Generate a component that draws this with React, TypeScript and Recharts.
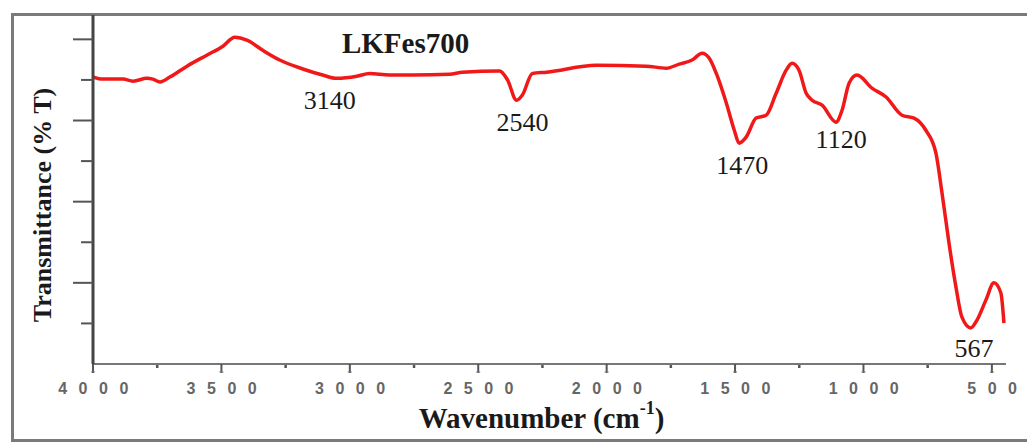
import { LineChart, Line, XAxis, YAxis, ReferenceDot } from "recharts";

// FT-IR spectrum of LKFes700
const wavenumbers = [
  4000, 3961, 3883, 3844, 3790, 3767, 3739, 3701, 3634, 3557, 3494, 3448, 3401,
  3339, 3273, 3183, 3106, 3051, 2973, 2923, 2845, 2756, 2612, 2561, 2417, 2386,
  2351, 2328, 2289, 2234, 2040, 1846, 1768, 1717, 1667, 1628, 1601, 1573, 1534,
  1503, 1484, 1457, 1418, 1379, 1340, 1301, 1278, 1251, 1223, 1200, 1161, 1107,
  1083, 1056, 1025, 967, 912, 850, 803, 757, 718, 694, 667, 640, 617, 582, 558,
  523, 492, 465, 453,
];
const transmittance = [
  70.7, 70.2, 70.2, 69.7, 70.4, 70.2, 69.5, 70.7, 73.4, 76.1, 78.3, 80.5, 79.8,
  77.3, 74.9, 72.7, 71.2, 70.4, 70.9, 71.6, 71.2, 71.2, 71.4, 71.9, 72.2, 70.0,
  65.0, 66.3, 71.6, 71.9, 73.6, 73.4, 72.9, 73.9, 74.9, 76.6, 75.4, 71.6, 64.3,
  57.6, 54.4, 55.9, 60.6, 61.3, 66.7, 72.4, 74.1, 72.4, 66.7, 65.0, 63.8, 59.6,
  62.6, 69.2, 71.2, 68.0, 65.8, 61.3, 60.6, 57.6, 52.0, 42.1, 29.8, 19.0, 11.6,
  8.9, 10.8, 15.8, 20.0, 17.5, 10.1,
];

// peak annotations (text, wavenumber, transmittance where the text sits)
const peakLabels = ["3140", "2540", "1470", "1120", "567"];
const peakLabelX = [3078, 2328, 1472, 1087, 570];
const peakLabelY = [65, 59.4, 49, 55.2, 3.9];

const sampleName = "LKFes700";
const sampleNameX = 2783;
const sampleNameY = 79;

const xTicks = [
  4000, 3750, 3500, 3250, 3000, 2750, 2500, 2250, 2000, 1750, 1500, 1250, 1000,
  750, 500,
];
const yTicks = [10, 20, 30, 40, 50, 60, 70, 80];

const data = wavenumbers.map((w, i) => ({ w, t: transmittance[i] }));

const SERIF = '"Liberation Serif", "Times New Roman", serif';

const XTick = (props: any) => {
  const { x, y, payload } = props;
  const major = payload.value % 500 === 0;
  if (!major) {
    return <line x1={x} x2={x} y1={y + 1} y2={y + 4} stroke="#555" strokeWidth={2.5} />;
  }
  return (
    <g>
      <line x1={x} x2={x} y1={y} y2={y + 9} stroke="#555" strokeWidth={2} />
      <line x1={x - 2} x2={x + 2} y1={y + 8} y2={y + 8} stroke="#777" strokeWidth={1} />
      <text
        x={x + 6}
        y={y + 30}
        textAnchor="middle"
        fontFamily='"Liberation Sans", Arial, sans-serif'
        fontWeight="bold"
        fontSize={16}
        letterSpacing={11.5}
        fill="#666"
      >
        {payload.value}
      </text>
    </g>
  );
};

const YTick = (props: any) => {
  const { x, y, payload } = props;
  const len = payload.value % 20 === 0 ? 20 : 12;
  return <line x1={x - len} x2={x} y1={y} y2={y} stroke="#555" strokeWidth={2} />;
};

const PeakText = (props: any) => {
  const { viewBox, value, bold, size } = props;
  const cx = viewBox.x + (viewBox.width || 0) / 2;
  const cy = viewBox.y + (viewBox.height || 0) / 2;
  return (
    <text
      x={cx}
      y={cy}
      textAnchor="middle"
      dominantBaseline="central"
      fontFamily={SERIF}
      fontWeight={bold ? "bold" : "normal"}
      fontSize={size}
      fill="#1a1a1a"
    >
      {value}
    </text>
  );
};

const YTitle = (props: any) => {
  const { viewBox } = props;
  const cx = viewBox.x + 34;
  const cy = 197;
  return (
    <text
      x={cx}
      y={cy}
      transform={`rotate(-90 ${cx} ${cy})`}
      textAnchor="middle"
      dominantBaseline="central"
      fontFamily={SERIF}
      fontWeight="bold"
      fontSize={26}
      fill="#1a1a1a"
    >
      Transmittance (% T)
    </text>
  );
};

const XTitle = (props: any) => {
  const { viewBox } = props;
  const cx = viewBox.x + viewBox.width / 2 - 8;
  const cy = viewBox.y + 54;
  return (
    <text
      x={cx}
      y={cy}
      textAnchor="middle"
      dominantBaseline="central"
      fontFamily={SERIF}
      fontWeight="bold"
      fontSize={29}
      fill="#1a1a1a"
    >
      Wavenumber (cm
      <tspan fontSize={18} dy={-10}>
        -1
      </tspan>
      <tspan dy={10}>)</tspan>
    </text>
  );
};

export default function App() {
  return (
    <div style={{ position: "relative", width: 1027, height: 434 }}>
      <style>{`body{margin:8px;overflow:hidden;background:#fff}`}</style>
      <div
        style={{
          position: "absolute",
          left: 3,
          top: 5,
          width: 1024,
          height: 429,
          boxSizing: "border-box",
          borderLeft: "3px solid #7a7a7a",
          borderTop: "3px solid #7a7a7a",
          borderBottom: "3px solid #7a7a7a",
        }}
      />
      <LineChart
        width={1027}
        height={434}
        data={data}
        margin={{ top: 7, right: 29, bottom: 0, left: 0 }}
        style={{ position: "relative" }}
      >
        <XAxis
          dataKey="w"
          type="number"
          domain={[445, 4000]}
          reversed
          allowDataOverflow
          ticks={xTicks}
          interval={0}
          height={78}
          tickSize={0}
          tickMargin={0}
          tickLine={false}
          axisLine={{ stroke: "#777", strokeWidth: 2 }}
          tick={<XTick />}
          label={<XTitle />}
        />
        <YAxis
          type="number"
          domain={[0, 86]}
          ticks={yTicks}
          interval={0}
          width={85}
          tickSize={0}
          tickMargin={0}
          tickLine={false}
          axisLine={{ stroke: "#444", strokeWidth: 3 }}
          tick={<YTick />}
          label={<YTitle />}
        />
        <Line
          type="monotone"
          dataKey="t"
          stroke="#f01818"
          strokeWidth={3.5}
          dot={false}
          isAnimationActive={false}
        />
        <ReferenceDot
          x={sampleNameX}
          y={sampleNameY}
          r={0}
          fill="none"
          stroke="none"
          label={<PeakText value={sampleName} bold size={29} />}
        />
        {peakLabels.map((p, i) => (
          <ReferenceDot
            key={p}
            x={peakLabelX[i]}
            y={peakLabelY[i]}
            r={0}
            fill="none"
            stroke="none"
            label={<PeakText value={p} size={26} />}
          />
        ))}
      </LineChart>
    </div>
  );
}
